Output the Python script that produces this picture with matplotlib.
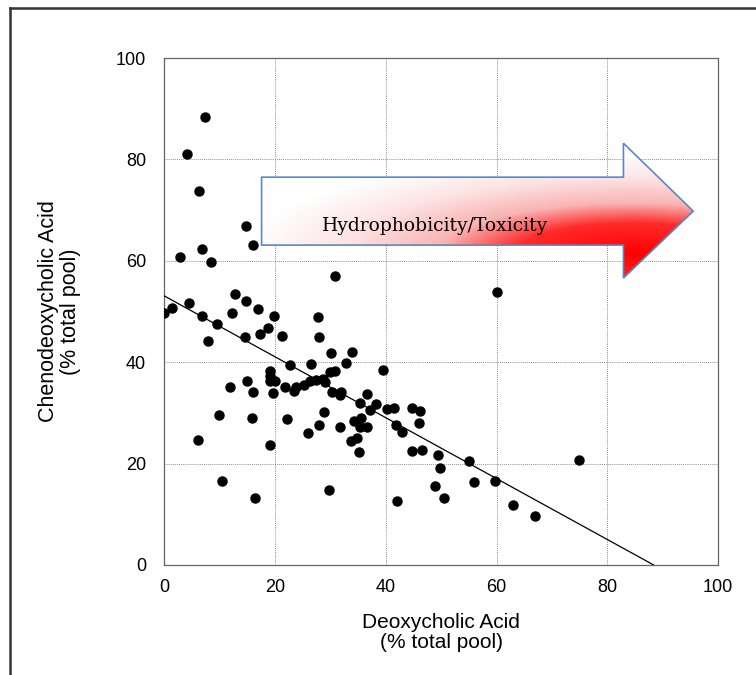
import numpy as np
import matplotlib
matplotlib.use("Agg")
from matplotlib import pyplot as plt
from matplotlib.patches import Polygon
from matplotlib.colors import LinearSegmentedColormap
from matplotlib.lines import Line2D

# deoxycholic (x) vs chenodeoxycholic (y), % of total pool
dca = [7.4, 4.1, 6.3, 14.7, 16.0, 6.8, 2.8, 8.5, 30.9, 12.8,
       14.7, 4.5, 12.2, 17.0, 19.8, 27.7, 0.0, 1.4, 6.8, 9.5,
       8.0, 14.6, 17.3, 18.7, 21.2, 27.9, 30.1, 33.9, 32.9, 26.5,
       22.7, 39.6, 29.9, 30.8, 19.1, 19.2, 20.0, 19.1, 15.0, 11.9,
       16.0, 19.7, 21.9, 23.4, 23.9, 25.2, 26.3, 27.5, 28.7, 29.0,
       30.3, 31.7, 32.0, 35.4, 36.6, 37.2, 38.3, 40.2, 41.5, 44.7,
       46.2, 46.0, 41.9, 43.0, 44.7, 46.5, 49.4, 49.8, 48.9, 50.5,
       42.0, 29.7, 16.4, 10.4, 6.1, 9.9, 15.8, 22.1, 19.1, 26.0,
       27.9, 28.9, 31.8, 34.2, 35.6, 35.4, 36.7, 33.8, 34.8, 35.1,
       60.0, 55.0, 74.9, 55.9, 59.7, 63.0, 67.0]
cdca = [88.4, 81.1, 73.8, 66.9, 63.1, 62.3, 60.7, 59.7, 57.0, 53.4,
        52.1, 51.6, 49.8, 50.4, 49.2, 49.0, 49.8, 50.6, 49.1, 47.6,
        44.1, 44.9, 45.5, 46.7, 45.2, 45.0, 41.9, 42.1, 39.8, 39.6,
        39.4, 38.5, 38.0, 38.3, 38.3, 37.3, 36.2, 36.2, 36.2, 35.1,
        34.1, 34.0, 35.2, 34.4, 35.2, 35.6, 36.2, 36.4, 36.7, 36.0,
        34.1, 33.5, 34.1, 32.0, 33.7, 30.5, 31.8, 30.8, 31.0, 31.0,
        30.4, 28.1, 27.6, 26.2, 22.5, 22.7, 21.7, 19.1, 15.6, 13.2,
        12.7, 14.8, 13.3, 16.6, 24.7, 29.6, 28.9, 28.8, 23.6, 26.1,
        27.6, 30.2, 27.3, 28.5, 28.9, 27.3, 27.2, 24.5, 25.0, 22.3,
        53.8, 20.6, 20.8, 16.4, 16.6, 11.8, 9.7]

fit_intercept = 53.1
fit_slope = -0.601

ticks = [0, 20, 40, 60, 80, 100]
arrow_label = "Hydrophobicity/Toxicity"

fig = plt.figure(figsize=(7.56, 6.75), dpi=100)
ax = fig.add_axes([0.217, 0.163, 0.733, 0.751])

ax.plot(dca, cdca, "o", color="black", markersize=6.5, zorder=4)

x_end = -fit_intercept / fit_slope
xs = np.array([0, x_end])
ax.plot(xs, fit_intercept + fit_slope * xs, color="black", lw=0.9, zorder=3)

ax.set_xticks(ticks)
ax.set_yticks(ticks)
ax.grid(True, linestyle=(0, (1, 1.5)), color="#666666", lw=0.6)
ax.tick_params(direction="in", length=0, labelsize=13, pad=10)
ax.tick_params(axis="y", pad=13)
for s in ax.spines.values():
    s.set_color("#666666")
    s.set_linewidth(0.9)

for lab in ax.get_xticklabels() + ax.get_yticklabels():
    lab.set_family("Liberation Sans")

ax.set_xlabel("Deoxycholic Acid\n(% total pool)", family="Liberation Sans",
              fontsize=15, labelpad=12, linespacing=1.1)
ax.set_ylabel("Chenodeoxycholic Acid\n(% total pool)", family="Liberation Sans",
              fontsize=15.5, labelpad=25, linespacing=1.05)

# gradient arrow
arrow_pts = [(17.6, 63.1), (17.6, 76.5), (82.9, 76.5), (82.9, 83.2),
             (95.5, 69.8), (82.9, 56.6), (82.9, 63.1)]
poly = Polygon(arrow_pts, closed=True, facecolor="none",
               edgecolor="#5b87c2", lw=1.2, zorder=6)
ax.add_patch(poly)

x0, x1, y0, y1 = 17.6, 95.5, 56.6, 83.2
u, v = np.meshgrid(np.linspace(0, 1, 300), np.linspace(0, 1, 150))
d = np.sqrt(((u - 0.86) / 0.9) ** 2 + ((v - 0.82) / 0.75) ** 2)
s = np.clip(1 - d, 0, 1)
cmap = LinearSegmentedColormap.from_list(
    "hyd", [(0, "#ffffff"), (0.25, "#fde4e4"), (0.5, "#f9b4b4"),
            (0.7, "#ff2a2a"), (1.0, "#ff0000")])
img = ax.imshow(s, extent=[x0, x1, y0, y1], origin="upper", cmap=cmap,
                vmin=0, vmax=1, aspect="auto", zorder=5)
img.set_clip_path(poly)
ax.set_xlim(0, 100)
ax.set_ylim(0, 100)

ax.text(48.9, 66.9, arrow_label, family="DejaVu Serif", fontsize=13.5,
        ha="center", va="center", zorder=7)

# outer frame (left and top edges only)
fig.add_artist(Line2D([10 / 756, 10 / 756], [0, 1 - 8 / 675],
                      transform=fig.transFigure, color="#333333", lw=1.8))
fig.add_artist(Line2D([10 / 756, 1], [1 - 8 / 675, 1 - 8 / 675],
                      transform=fig.transFigure, color="#333333", lw=1.8))

fig.savefig("out.png", dpi=100)
